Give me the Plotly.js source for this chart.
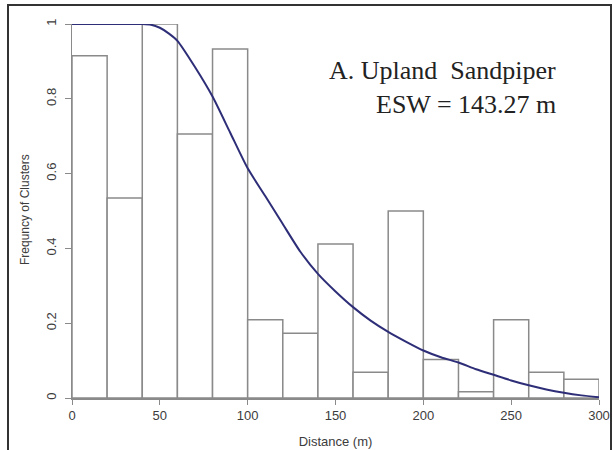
<!DOCTYPE html>
<html>
<head>
<meta charset="utf-8">
<script src="https://cdn.plot.ly/plotly-3.0.1.min.js"></script>
<style>html,body{margin:0;padding:0;background:#fff;}#chart{width:613px;height:450px;}</style>
</head>
<body>
<div id="chart"></div>
<script>
// Histogram bins (start of each 20 m bin) and scaled frequencies
var binStart = [0, 20, 40, 60, 80, 100, 120, 140, 160, 180, 200, 220, 240, 260, 280];
var binFreq  = [0.915, 0.535, 1.0, 0.706, 0.933, 0.209, 0.173, 0.412, 0.069, 0.50, 0.103, 0.017, 0.209, 0.069, 0.05];
var binWidth = 20;

// Fitted detection function
var curveX = [0, 10, 20, 30, 40, 45, 50, 55, 60, 70, 80, 90, 100, 110, 120, 130, 140, 150, 160, 170, 180, 190, 200, 210, 220, 230, 240, 250, 260, 270, 280, 290, 300];
var curveY = [1.0, 1.0, 1.0, 1.0, 1.0, 0.998, 0.99, 0.975, 0.955, 0.885, 0.806, 0.71, 0.614, 0.54, 0.465, 0.391, 0.332, 0.285, 0.243, 0.207, 0.177, 0.151, 0.127, 0.109, 0.095, 0.077, 0.062, 0.047, 0.034, 0.023, 0.014, 0.007, 0.002];

var xTicks = [0, 50, 100, 150, 200, 250, 300];
var yTicks = [0, 0.2, 0.4, 0.6, 0.8, 1];
var yTickText = ['0', '0.2', '0.4', '0.6', '0.8', '1'];

var xTitle = 'Distance (m)';
var yTitle = 'Frequncy of Clusters';
var titleLine1 = 'A. Upland  Sandpiper';
var titleLine2 = 'ESW = 143.27 m';

var traces = [
  {
    type: 'bar',
    x: binStart,
    y: binFreq,
    width: binStart.map(function(){ return binWidth; }),
    offset: 0,
    marker: {color: '#ffffff', line: {color: '#8a8a8a', width: 1.5}},
    hoverinfo: 'x+y'
  },
  {
    type: 'scatter',
    mode: 'lines',
    x: curveX,
    y: curveY,
    line: {color: '#2e2e78', width: 2, shape: 'spline', smoothing: 0.6}
  }
];

var sansFamily = 'Liberation Sans, Arial, sans-serif';
var tickFont = {family: sansFamily, size: 13, color: '#3c3c3c'};

var layout = {
  width: 613,
  height: 450,
  margin: {l: 72, r: 14, t: 24, b: 52, pad: 0},
  paper_bgcolor: '#ffffff',
  plot_bgcolor: '#ffffff',
  showlegend: false,
  bargap: 0,
  xaxis: {
    range: [0, 300],
    tickvals: xTicks,
    ticktext: xTicks.map(String),
    ticks: 'outside', ticklen: 5, tickcolor: '#8a8a8a', tickwidth: 1,
    showline: true, linecolor: '#8a8a8a', linewidth: 1.5,
    showgrid: false, zeroline: false,
    tickfont: tickFont,
    automargin: false,
    title: {text: xTitle, font: {family: sansFamily, size: 13, color: '#3c3c3c'}, standoff: 15}
  },
  yaxis: {
    range: [0, 1],
    tickvals: yTicks,
    ticktext: yTickText,
    tickangle: -90,
    ticks: 'outside', ticklen: 6, tickcolor: '#8a8a8a', tickwidth: 1,
    ticklabelstandoff: 3,
    showline: true, linecolor: '#8a8a8a', linewidth: 1.5,
    showgrid: false, zeroline: false,
    tickfont: tickFont,
    automargin: false
  },
  annotations: [
    {xref: 'paper', yref: 'paper', x: (25 - 72) / 527, y: (398 - 210) / 374, xanchor: 'center', yanchor: 'middle',
     textangle: -90, text: yTitle, showarrow: false, font: {family: sansFamily, size: 12, color: '#3c3c3c'}},
    {xref: 'paper', yref: 'paper', x: (558 - 72) / 527, y: (398 - 71) / 374, xanchor: 'right', yanchor: 'middle',
     text: titleLine1, showarrow: false, font: {family: 'Liberation Serif, Times New Roman, serif', size: 26, color: '#222'}},
    {xref: 'paper', yref: 'paper', x: (558 - 72) / 527, y: (398 - 105) / 374, xanchor: 'right', yanchor: 'middle',
     text: titleLine2, showarrow: false, font: {family: 'Liberation Serif, Times New Roman, serif', size: 26, color: '#222'}}
  ],
  shapes: [
    {type: 'rect', xref: 'paper', yref: 'paper', x0: (8 - 72) / 527, x1: (611 - 72) / 527, y0: (398 - 455) / 374, y1: (398 - 5) / 374,
     line: {color: '#333333', width: 2}, fillcolor: 'rgba(0,0,0,0)', layer: 'below'}
  ]
};

Plotly.newPlot('chart', traces, layout, {displayModeBar: false, staticPlot: true});
</script>
</body>
</html>
